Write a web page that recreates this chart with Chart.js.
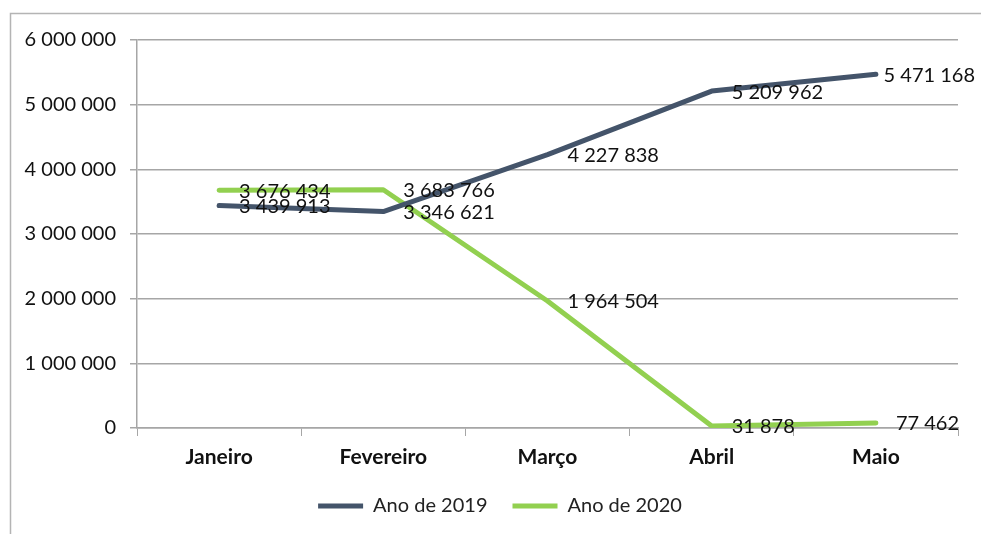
<!DOCTYPE html>
<html>
<head>
<meta charset="utf-8">
<script src="https://cdn.jsdelivr.net/npm/chart.js@4.4.1/dist/chart.umd.min.js"></script>
<style>
  html, body { margin: 0; padding: 0; background: #fff; }
  #wrap { position: relative; width: 981px; height: 534px; }
</style>
</head>
<body>
<div id="wrap"><canvas id="chart" width="981" height="534"></canvas></div>
<script>
// Data
const months = ['Janeiro', 'Fevereiro', 'Março', 'Abril', 'Maio'];
const values2019 = [3439913, 3346621, 4227838, 5209962, 5471168];
const values2020 = [3676434, 3683766, 1964504, 31878, 77462];
const seriesNames = ['Ano de 2019', 'Ano de 2020'];
const yTicks = [0, 1000000, 2000000, 3000000, 4000000, 5000000, 6000000];

const FONT = 'Lato, "Open Sans", sans-serif';
const darkColor = '#44546A';
const greenColor = '#92D050';
const gridColor = '#a6a6a6';

// "6 000 000" style number format
const fmt = (v) => String(Math.round(v)).replace(/\B(?=(\d{3})+(?!\d))/g, ' ');

// Outer frame (left and top edges visible)
const framePlugin = {
    id: 'frame',
    beforeDraw(chart) {
        const ctx = chart.ctx;
        ctx.save();
        ctx.strokeStyle = '#b4b4b4';
        ctx.lineWidth = 1.5;
        ctx.beginPath();
        ctx.moveTo(10.5, chart.height + 5);
        ctx.lineTo(10.5, 13.5);
        ctx.lineTo(chart.width + 5, 13.5);
        ctx.stroke();
        ctx.restore();
    }
};

// Legend sits a bit right of the canvas centre
const legendShift = {
    id: 'legendShift',
    afterLayout(chart) {
        const lg = chart.legend;
        if (lg) {
            lg.left += 16;
            lg.right += 16;
            lg.top -= 1;
            lg.bottom -= 1;
        }
    }
};

// Value labels to the right of each point
const valueLabels = {
    id: 'valueLabels',
    afterDatasetsDraw(chart) {
        const ctx = chart.ctx;
        ctx.save();
        ctx.font = '20px ' + FONT;
        ctx.fillStyle = '#111';
        ctx.textBaseline = 'middle';
        ctx.textAlign = 'left';
        chart.data.datasets.forEach((ds, i) => {
            const meta = chart.getDatasetMeta(i);
            meta.data.forEach((pt, j) => {
                const txt = fmt(ds.data[j]);
                const w = ctx.measureText(txt).width;
                const x = Math.min(pt.x + 20, chart.width - 6 - w);
                ctx.fillText(txt, x, pt.y + 1);
            });
        });
        ctx.restore();
    }
};

const ctx = document.getElementById('chart').getContext('2d');
new Chart(ctx, {
    type: 'line',
    data: {
        labels: months,
        datasets: [{
            label: seriesNames[0],
            data: values2019,
            borderColor: darkColor,
            backgroundColor: darkColor,
            borderWidth: 5,
            borderCapStyle: 'round',
            borderJoinStyle: 'round',
            pointStyle: 'line',
            pointRadius: 0,
            tension: 0
        }, {
            label: seriesNames[1],
            data: values2020,
            borderColor: greenColor,
            backgroundColor: greenColor,
            borderWidth: 5,
            borderCapStyle: 'round',
            borderJoinStyle: 'round',
            pointStyle: 'line',
            pointRadius: 0,
            tension: 0
        }]
    },
    options: {
        responsive: false,
        animation: false,
        layout: { padding: { left: 10, right: 23, top: 40, bottom: 7 } },
        plugins: {
            tooltip: { enabled: false },
            legend: {
                position: 'bottom',
                labels: {
                    usePointStyle: true,
                    pointStyleWidth: 45,
                    boxHeight: 5,
                    padding: 25,
                    color: '#222',
                    font: { family: FONT, size: 20 }
                }
            }
        },
        scales: {
            x: {
                offset: true,
                grid: {
                    offset: true,
                    drawOnChartArea: false,
                    drawTicks: true,
                    tickLength: 8,
                    color: gridColor
                },
                border: { color: gridColor, width: 1.5 },
                ticks: {
                    color: '#111',
                    padding: 9,
                    font: { family: FONT, size: 21, weight: 'bold' },
                    maxRotation: 0
                },
                afterFit(scale) { scale.height = 44; }
            },
            y: {
                min: 0,
                max: 6000000,
                afterBuildTicks(scale) { scale.ticks = yTicks.map(v => ({ value: v })); },
                grid: {
                    color: gridColor,
                    lineWidth: 1.5,
                    tickLength: 7
                },
                border: { color: gridColor, width: 1.5 },
                ticks: {
                    color: '#111',
                    padding: 14,
                    font: { family: FONT, size: 20 },
                    callback: (v) => fmt(v)
                },
                afterFit(scale) { scale.width = 137 - 10; }
            }
        }
    },
    plugins: [framePlugin, legendShift, valueLabels]
});
</script>
</body>
</html>
